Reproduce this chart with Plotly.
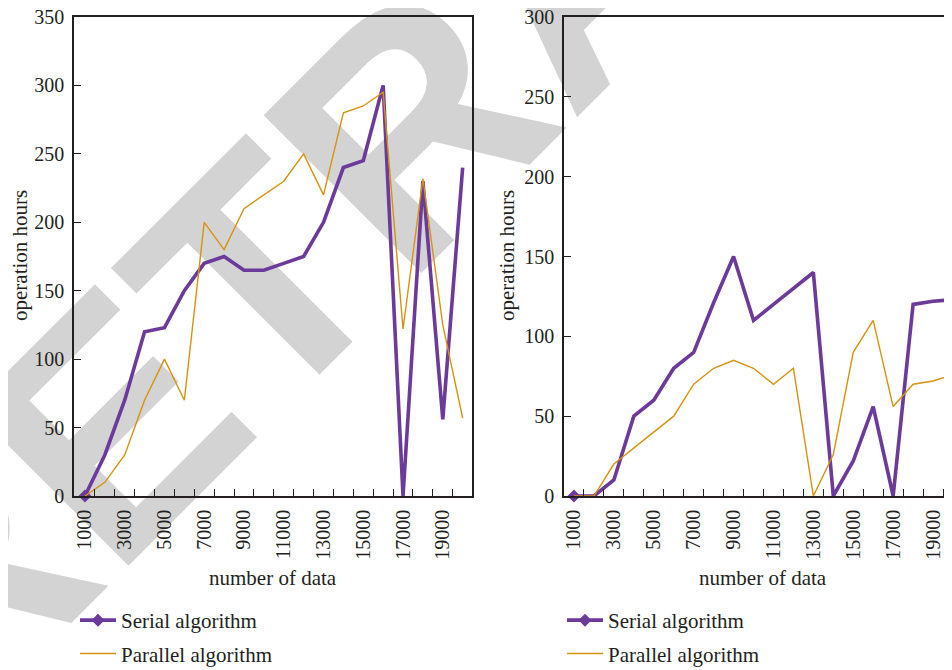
import plotly.graph_objects as go

# ---------------- data ----------------
x_vals = [1000, 2000, 3000, 4000, 5000, 6000, 7000, 8000, 9000, 10000,
          11000, 12000, 13000, 14000, 15000, 16000, 17000, 18000, 19000, 20000]

left_serial = [0, 30, 70, 120, 123, 150, 170, 175, 165, 165,
               170, 175, 200, 240, 245, 300, 0, 230, 56, 240]
left_parallel = [0, 10, 30, 70, 100, 70, 200, 180, 210, 220,
                 230, 250, 220, 280, 285, 295, 122, 232, 125, 57]

right_serial = [0, 0, 10, 50, 60, 80, 90, 121, 150, 110,
                120, 130, 140, 0, 22, 56, 0, 120, 122, 123]
right_parallel = [0, 0, 20, 30, 40, 50, 70, 80, 85, 80,
                  70, 80, 0, 26, 90, 110, 56, 70, 72, 76]

x_tick_vals = [1000, 3000, 5000, 7000, 9000, 11000, 13000, 15000, 17000, 19000]
x_tick_text = [str(v) for v in x_tick_vals]
x_minor_ticks = [1500 + 1000 * i for i in range(19)]
left_y_ticks = [0, 50, 100, 150, 200, 250, 300, 350]
right_y_ticks = [0, 50, 100, 150, 200, 250, 300]

serial_name = "Serial algorithm"
parallel_name = "Parallel algorithm"

# ---------------- styles ----------------
OFF = 8                      # default body margin of the page
W, H = 952 - OFF, 670 - OFF  # figure fits the visible window
PURPLE = "#6b3a9b"
ORANGE = "#d8920f"
INK = "#231f20"
SERIF = "Liberation Serif"
TICK_FONT = dict(family=SERIF, size=20, color=INK)
TEXT_FONT = dict(family=SERIF, size=21, color=INK)


def px_x(p):
    """page pixel -> paper fraction"""
    return (p - OFF) / W


def px_y(p):
    return 1 - (p - OFF) / H


fig = go.Figure()

for xa, ya, leg, s_vals, p_vals in [("x", "y", "legend", left_serial, left_parallel),
                                    ("x2", "y2", "legend2", right_serial, right_parallel)]:
    fig.add_trace(go.Scatter(
        x=x_vals, y=s_vals, name=serial_name, mode="lines+markers",
        line=dict(color=PURPLE, width=3.6),
        marker=dict(symbol="diamond", size=10, color=PURPLE, maxdisplayed=1),
        cliponaxis=False, xaxis=xa, yaxis=ya, legend=leg, legendgroup="s"))
    fig.add_trace(go.Scatter(
        x=x_vals, y=p_vals, name=parallel_name, mode="lines",
        line=dict(color=ORANGE, width=1.4),
        xaxis=xa, yaxis=ya, legend=leg, legendgroup="p"))

axis_common = dict(showline=True, linecolor=INK, linewidth=1.6, showgrid=False,
                   zeroline=False, tickfont=TICK_FONT, ticklabelstandoff=4,
                   automargin=False, ticklabeloverflow="allow")

x_common = dict(axis_common, tickmode="array", tickvals=x_tick_vals, ticktext=x_tick_text,
                ticks="", tickangle=-90,
                minor=dict(tickmode="array", tickvals=x_minor_ticks, ticks="inside",
                           ticklen=7, tickwidth=1.3, tickcolor=INK))
y_common = dict(axis_common, ticks="inside", ticklen=7, tickwidth=1.3, tickcolor=INK,
                tickmode="array")

y_dom = [px_y(496), px_y(17)]

fig.update_layout(
    width=W, height=H, autosize=False,
    margin=dict(l=0, r=0, t=0, b=0, autoexpand=False),
    paper_bgcolor="white", plot_bgcolor="rgba(0,0,0,0)",
    font=dict(family=SERIF, color=INK),
    xaxis=dict(x_common, domain=[px_x(74), px_x(472)], range=[450, 20470],
               anchor="y", mirror=True),
    yaxis=dict(y_common, domain=y_dom, range=[0, 350], tickvals=left_y_ticks,
               anchor="x", mirror=True),
    xaxis2=dict(x_common, domain=[px_x(564), 1.0], range=[500, 19950],
                anchor="y2", mirror=True),
    yaxis2=dict(y_common, domain=y_dom, range=[0, 300], tickvals=right_y_ticks,
                anchor="x2", mirror=False),
    legend=dict(x=px_x(75), y=px_y(600), xanchor="left", yanchor="top",
                font=TEXT_FONT, itemwidth=36, tracegroupgap=3,
                bgcolor="rgba(0,0,0,0)", borderwidth=0),
    legend2=dict(x=px_x(562), y=px_y(600), xanchor="left", yanchor="top",
                 font=TEXT_FONT, itemwidth=36, tracegroupgap=3,
                 bgcolor="rgba(0,0,0,0)", borderwidth=0),
    showlegend=True,
)

# axis titles
fig.add_annotation(text="operation hours", x=px_x(20), y=px_y(256), xref="paper", yref="paper",
                   textangle=-90, showarrow=False, font=TEXT_FONT, xanchor="center", yanchor="middle")
fig.add_annotation(text="operation hours", x=px_x(507), y=px_y(256), xref="paper", yref="paper",
                   textangle=-90, showarrow=False, font=TEXT_FONT, xanchor="center", yanchor="middle")
fig.add_annotation(text="number of data", x=px_x(273), y=px_y(578), xref="paper", yref="paper",
                   showarrow=False, font=TEXT_FONT, xanchor="center", yanchor="middle")
fig.add_annotation(text="number of data", x=px_x(763), y=px_y(578), xref="paper", yref="paper",
                   showarrow=False, font=TEXT_FONT, xanchor="center", yanchor="middle")

# watermark (behind everything)
cx, cy = 553, -61
fig.add_shape(type="rect", xref="paper", yref="paper",
              x0=px_x(cx - 5), x1=px_x(cx + 5), y0=px_y(cy + 5), y1=px_y(cy - 5),
              line=dict(width=0), fillcolor="rgba(0,0,0,0)", layer="below",
              label=dict(text="RETRACTED", textangle=-45, textposition="middle center",
                         font=dict(family="Liberation Sans", size=324, color="#d3d3d3",
                                   weight="bold")))

fig.write_html("out.html")
